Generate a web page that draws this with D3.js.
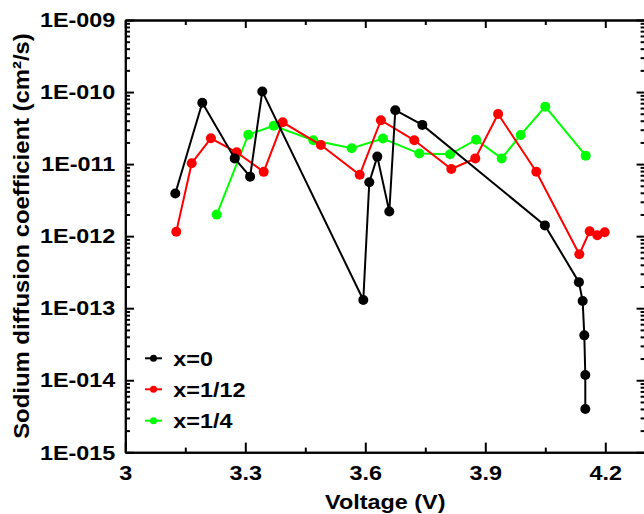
<!DOCTYPE html>
<html>
<head>
<meta charset="utf-8">
<script src="https://cdnjs.cloudflare.com/ajax/libs/d3/7.8.5/d3.min.js"></script>
<style>
  body { margin: 0; background: #fff; }
  svg { display: block; }
  text { font-family: "Liberation Sans", Arial, sans-serif; font-weight: bold; }
</style>
</head>
<body>
<svg id="chart" width="644" height="514"></svg>
<script>
// voltage (V) and sodium diffusion coefficient (cm2/s) per composition
var voltX0 = [3.125, 3.1925, 3.2735, 3.312, 3.3425, 3.595, 3.61, 3.63, 3.66, 3.675, 3.7425, 4.049, 4.134, 4.1434, 4.1475, 4.15, 4.15];
var diffX0 = [3.9e-12, 7.1e-11, 1.2e-11, 6.7e-12, 1.02e-10, 1.3e-13, 5.6e-12, 1.27e-11, 2.2e-12, 5.6e-11, 3.5e-11, 1.41e-12, 2.3e-13, 1.26e-13, 4.2e-14, 1.18e-14, 4.0e-15];

var voltX12 = [3.1275, 3.166, 3.214, 3.2785, 3.346, 3.3935, 3.489, 3.586, 3.639, 3.7225, 3.815, 3.875, 3.932, 4.0275, 4.135, 4.161, 4.18, 4.1985];
var diffX12 = [1.15e-12, 1.03e-11, 2.28e-11, 1.46e-11, 7.8e-12, 3.8e-11, 1.84e-11, 7.1e-12, 4.06e-11, 2.14e-11, 8.55e-12, 1.2e-11, 4.96e-11, 7.85e-12, 5.6e-13, 1.17e-12, 1.03e-12, 1.13e-12];

var voltX4 = [3.2285, 3.3075, 3.371, 3.47, 3.566, 3.644, 3.735, 3.812, 3.877, 3.941, 3.9885, 4.05, 4.151];
var diffX4 = [1.99e-12, 2.56e-11, 3.41e-11, 2.14e-11, 1.66e-11, 2.26e-11, 1.40e-11, 1.37e-11, 2.18e-11, 1.2e-11, 2.54e-11, 6.27e-11, 1.31e-11];

var seriesNames = ["x=0", "x=1/12", "x=1/4"];
var seriesColors = ["#000000", "#ff0000", "#00ff00"];

var xTicks = [3, 3.3, 3.6, 3.9, 4.2];
var xMinorTicks = [3.15, 3.45, 3.75, 4.05];
var yTicks = [1e-15, 1e-14, 1e-13, 1e-12, 1e-11, 1e-10, 1e-9];

var xLabel = "Voltage (V)";
var yLabel = "Sodium diffusion coefficient (cm\u00b2/s)";

(function () {
  "use strict";
  var fontSize = 21;
  var stretch = 1.114;   // glyphs in the picture run wider than plain Arial
  var left = 125.3, right = 645.3, top = 20, bottom = 452.3;

  var svg = d3.select("#chart");

  var x = d3.scaleLinear().domain([3, 4.3]).range([left, right]);
  var y = d3.scaleLog().domain([1e-15, 1e-9]).range([bottom, top]);

  // minor ticks 2..9 in every decade
  var yMinorTicks = [];
  yTicks.slice(0, -1).forEach(function (d) {
    for (var k = 2; k <= 9; k++) yMinorTicks.push(d * k);
  });

  var yFormat = function (d) {
    var e = Math.round(Math.log10(d));
    return "1E-" + String(-e).padStart(3, "0");
  };
  var xFormat = function (d) { return String(+d.toFixed(1)); };

  function styleAxis(g) {
    g.select(".domain").attr("stroke", "#000").attr("stroke-width", 2);
    g.selectAll(".tick line").attr("stroke", "#000").attr("stroke-width", 2);
    g.selectAll(".tick text")
      .attr("fill", "#000")
      .style("font-size", fontSize + "px");
  }

  // bottom
  var gb = svg.append("g").attr("transform", "translate(0," + bottom + ")")
    .call(d3.axisBottom(x).tickValues(xTicks).tickFormat(xFormat)
      .tickSizeInner(-9.7).tickSizeOuter(0).tickPadding(12.5));
  styleAxis(gb);
  gb.selectAll(".tick text").attr("transform", "scale(" + stretch + ",1)");
  var gbm = svg.append("g").attr("transform", "translate(0," + bottom + ")")
    .call(d3.axisBottom(x).tickValues(xMinorTicks).tickFormat("").tickSizeInner(-4.7).tickSizeOuter(0));
  styleAxis(gbm);

  // top
  var gt = svg.append("g").attr("transform", "translate(0," + top + ")")
    .call(d3.axisTop(x).tickValues(xTicks).tickFormat("").tickSizeInner(-8).tickSizeOuter(0));
  styleAxis(gt);
  var gtm = svg.append("g").attr("transform", "translate(0," + top + ")")
    .call(d3.axisTop(x).tickValues(xMinorTicks).tickFormat("").tickSizeInner(-5).tickSizeOuter(0));
  styleAxis(gtm);

  // left
  var gl = svg.append("g").attr("transform", "translate(" + left + ",0)")
    .call(d3.axisLeft(y).tickValues(yTicks).tickFormat(yFormat)
      .tickSizeInner(-8.7).tickSizeOuter(0).tickPadding(10));
  styleAxis(gl);
  gl.selectAll(".tick text")
    .attr("x", -10 / stretch)
    .attr("transform", "scale(" + stretch + ",1)");
  var glm = svg.append("g").attr("transform", "translate(" + left + ",0)")
    .call(d3.axisLeft(y).tickValues(yMinorTicks).tickFormat("").tickSizeInner(-4.7).tickSizeOuter(0));
  styleAxis(glm);

  // right
  var gr = svg.append("g").attr("transform", "translate(" + right + ",0)")
    .call(d3.axisRight(y).tickValues(yTicks).tickFormat("").tickSizeInner(-8.7).tickSizeOuter(0));
  styleAxis(gr);
  var grm = svg.append("g").attr("transform", "translate(" + right + ",0)")
    .call(d3.axisRight(y).tickValues(yMinorTicks).tickFormat("").tickSizeInner(-4.7).tickSizeOuter(0));
  styleAxis(grm);

  // axis titles
  svg.append("text")
    .attr("transform", "translate(" + ((left + right) / 2) + ",509) scale(" + stretch + ",1)")
    .attr("text-anchor", "middle")
    .style("font-size", fontSize + "px")
    .text(xLabel);

  // y title: in the picture it runs from y=439 up to y=33
  var yt = svg.append("text")
    .attr("text-anchor", "middle")
    .style("font-size", "22px")
    .text(yLabel);
  var ytLen = yt.node().getComputedTextLength();
  var ytScale = 406 / ytLen;
  yt.attr("transform", "translate(29," + ((439 + 33) / 2) + ") rotate(-90) scale(" + ytScale + ",1)");

  // series
  var allSeries = [
    { name: seriesNames[0], color: seriesColors[0], v: voltX0, d: diffX0 },
    { name: seriesNames[1], color: seriesColors[1], v: voltX12, d: diffX12 },
    { name: seriesNames[2], color: seriesColors[2], v: voltX4, d: diffX4 }
  ];

  var line = d3.line()
    .x(function (p) { return x(p[0]); })
    .y(function (p) { return y(p[1]); });

  // draw last series first so black sits on top
  allSeries.slice().reverse().forEach(function (s) {
    var pts = s.v.map(function (v, i) { return [v, s.d[i]]; });
    var g = svg.append("g");
    g.append("path")
      .datum(pts)
      .attr("d", line)
      .attr("fill", "none")
      .attr("stroke", s.color)
      .attr("stroke-width", 2);
    g.selectAll("circle")
      .data(pts)
      .enter().append("circle")
      .attr("cx", function (p) { return x(p[0]); })
      .attr("cy", function (p) { return y(p[1]); })
      .attr("r", 5)
      .attr("fill", s.color);
  });

  // legend
  var legendRows = [358.3, 389.3, 420.7];
  allSeries.forEach(function (s, i) {
    var ly = legendRows[i];
    svg.append("line")
      .attr("x1", 145).attr("x2", 162)
      .attr("y1", ly).attr("y2", ly)
      .attr("stroke", s.color).attr("stroke-width", 2);
    svg.append("circle")
      .attr("cx", 153.5).attr("cy", ly).attr("r", 3.5)
      .attr("fill", s.color);
    svg.append("text")
      .attr("transform", "translate(173.3," + (ly + 7.5) + ") scale(" + stretch + ",1)")
      .style("font-size", fontSize + "px")
      .text(s.name);
  });
}());
</script>
</body>
</html>
